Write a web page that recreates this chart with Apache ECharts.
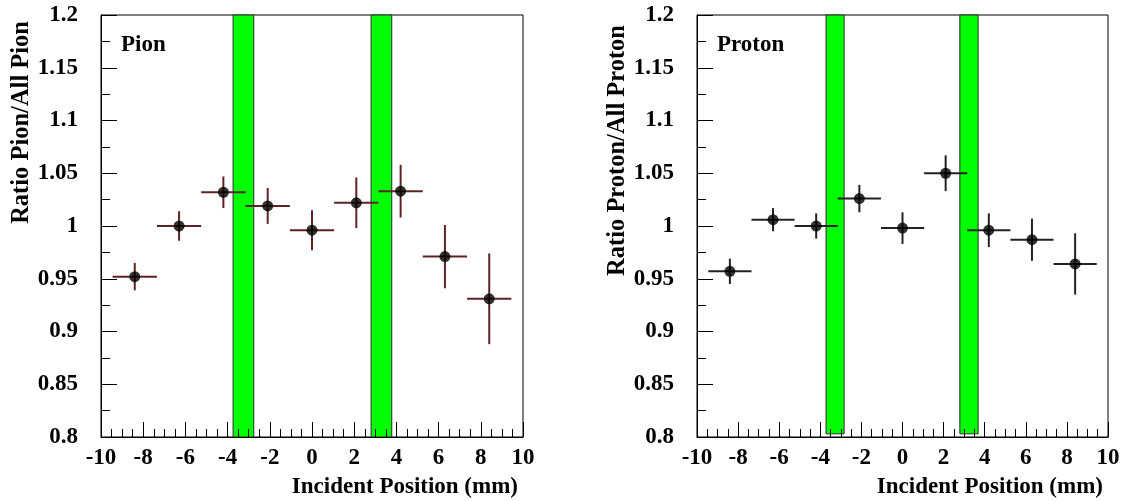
<!DOCTYPE html>
<html>
<head>
<meta charset="utf-8">
<style>
  html, body { margin: 0; padding: 0; background: #fff; }
  #chart { width: 1136px; height: 501px; }
</style>
<script src="https://cdn.jsdelivr.net/npm/echarts@6/dist/echarts.min.js"></script>
</head>
<body>
<div id="chart"></div>
<script>
// Bin centres along the incident position (mm) and half bin width
const positions = [-8.4, -6.3, -4.2, -2.1, 0, 2.1, 4.2, 6.3, 8.4];
const binHalfWidth = 1.05;

// Pion ratio and its statistical error
const pionRatio = [0.952, 1.000, 1.032, 1.019, 0.996, 1.022, 1.033, 0.971, 0.931];
const pionError = [0.013, 0.014, 0.015, 0.017, 0.019, 0.024, 0.025, 0.030, 0.043];

// Proton ratio and its statistical error
const protonRatio = [0.957, 1.006, 1.000, 1.026, 0.998, 1.050, 0.996, 0.987, 0.964];
const protonError = [0.012, 0.011, 0.012, 0.013, 0.015, 0.017, 0.016, 0.020, 0.029];

// Gap regions [from, to, yLow, yHigh]
const pionGaps = [[-3.74, -2.76, 0.8, 1.2], [2.80, 3.78, 0.8, 1.2]];
const protonGaps = [[-3.72, -2.84, 0.803, 1.2], [2.79, 3.68, 0.803, 1.2]];

// Tick labels
const xTickLabels = ['-10', '-8', '-6', '-4', '-2', '0', '2', '4', '6', '8', '10'];
const yTickLabels = ['0.8', '0.85', '0.9', '0.95', '1', '1.05', '1.1', '1.15', '1.2'];

const FONT = 'Liberation Serif';

function xLabel(v) { return xTickLabels[Math.round((v + 10) / 2)]; }
function yLabel(v) { return yTickLabels[Math.round((v - 0.8) / 0.05)]; }

function makeXAxis(gridIndex) {
  return {
    gridIndex, type: 'value', min: -10, max: 10, interval: 2, z: 5,
    name: 'Incident Position (mm)', nameLocation: 'end', nameGap: -5,
    nameTextStyle: { fontFamily: FONT, fontWeight: 'bold', fontSize: 23, color: '#000',
                     align: 'right', verticalAlign: 'top', padding: [39, 0, 0, 0] },
    axisLine: { show: true, onZero: false, lineStyle: { color: '#000', width: 1 } },
    axisTick: { show: true, inside: true, length: 15, lineStyle: { color: '#000', width: 1 } },
    minorTick: { show: true, splitNumber: 4, length: 8, lineStyle: { color: '#000', width: 1 } },
    splitLine: { show: false },
    axisLabel: { show: true, margin: 10, formatter: xLabel, showMinLabel: true, showMaxLabel: true,
                 fontFamily: FONT, fontWeight: 'bold', fontSize: 23, color: '#000' }
  };
}

function makeYAxis(gridIndex) {
  return {
    gridIndex, type: 'value', min: 0.8, max: 1.2, interval: 0.05, z: 5,
    axisLine: { show: true, onZero: false, lineStyle: { color: '#000', width: 1 } },
    axisTick: { show: true, inside: true, length: 16, lineStyle: { color: '#000', width: 1 } },
    minorTick: { show: true, splitNumber: 2, length: 9, lineStyle: { color: '#000', width: 1 } },
    splitLine: { show: false },
    axisLabel: { show: true, margin: 23, formatter: yLabel, showMinLabel: true, showMaxLabel: true,
                 fontFamily: FONT, fontWeight: 'bold', fontSize: 23, color: '#000' }
  };
}

function gapSeries(idx, gaps) {
  return {
    type: 'custom', xAxisIndex: idx, yAxisIndex: idx, z: 2,
    data: gaps,
    renderItem: function (params, api) {
      const a = api.coord([api.value(0), api.value(3)]);
      const b = api.coord([api.value(1), api.value(2)]);
      return {
        type: 'rect',
        shape: { x: a[0], y: a[1], width: b[0] - a[0], height: b[1] - a[1] },
        style: { fill: '#00ff00', stroke: '#2a2a2a', lineWidth: 1 }
      };
    },
    silent: true
  };
}

function errorSeries(idx, ys, errs, color) {
  const data = positions.map((x, i) => [x, ys[i], errs[i], binHalfWidth]);
  return {
    type: 'custom', xAxisIndex: idx, yAxisIndex: idx, z: 3,
    data,
    renderItem: function (params, api) {
      const x = api.value(0), y = api.value(1), e = api.value(2), w = api.value(3);
      const l = api.coord([x - w, y]), r = api.coord([x + w, y]);
      const t = api.coord([x, y + e]), b = api.coord([x, y - e]);
      const style = { stroke: color, lineWidth: 2 };
      return {
        type: 'group',
        children: [
          { type: 'line', shape: { x1: l[0], y1: l[1], x2: r[0], y2: r[1] }, style },
          { type: 'line', shape: { x1: t[0], y1: t[1], x2: b[0], y2: b[1] }, style }
        ]
      };
    },
    silent: true
  };
}

function pointSeries(idx, ys) {
  return {
    type: 'scatter', xAxisIndex: idx, yAxisIndex: idx, z: 4,
    symbol: 'circle', symbolSize: 11,
    itemStyle: { color: '#000' },
    data: positions.map((x, i) => [x, ys[i]]),
    silent: true
  };
}

const chart = echarts.init(document.getElementById('chart'), null, { renderer: 'canvas' });

chart.setOption({
  animation: false,
  backgroundColor: '#fff',
  title: [
    { text: 'Pion', left: 121, top: 34,
      textStyle: { fontFamily: FONT, fontWeight: 'bold', fontSize: 23, color: '#000' }, padding: 0 },
    { text: 'Proton', left: 717, top: 34,
      textStyle: { fontFamily: FONT, fontWeight: 'bold', fontSize: 23, color: '#000' }, padding: 0 }
  ],
  grid: [
    { left: 101, top: 15, width: 422, height: 422, show: true, borderColor: '#000', borderWidth: 1, backgroundColor: '#fff' },
    { left: 697, top: 15, width: 411, height: 422, show: true, borderColor: '#000', borderWidth: 1, backgroundColor: '#fff' }
  ],
  xAxis: [makeXAxis(0), makeXAxis(1)],
  yAxis: [makeYAxis(0), makeYAxis(1)],
  graphic: [
    { type: 'text', x: 22, y: 21, rotation: Math.PI / 2,
      style: { text: 'Ratio Pion/All Pion', font: 'bold 24.5px "Liberation Serif"', fill: '#000',
               textAlign: 'right', textVerticalAlign: 'middle' } },
    { type: 'text', x: 618, y: 25, rotation: Math.PI / 2,
      style: { text: 'Ratio Proton/All Proton', font: 'bold 24.5px "Liberation Serif"', fill: '#000',
               textAlign: 'right', textVerticalAlign: 'middle' } }
  ],
  series: [
    gapSeries(0, pionGaps),
    errorSeries(0, pionRatio, pionError, '#5e2323'),
    pointSeries(0, pionRatio),
    gapSeries(1, protonGaps),
    errorSeries(1, protonRatio, protonError, '#222'),
    pointSeries(1, protonRatio)
  ]
});
</script>
</body>
</html>
